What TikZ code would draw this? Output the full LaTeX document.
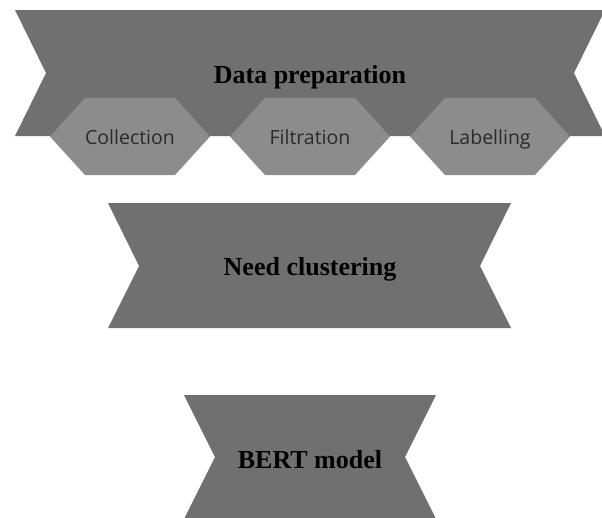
\documentclass[tikz,border=0pt]{standalone}
\usepackage{fontspec}
\setmainfont{Liberation Serif}
\newfontfamily\hexfont{Open Sans}
\definecolor{bandgray}{HTML}{707070}
\definecolor{hexgray}{HTML}{8C8C8C}
\definecolor{hextext}{HTML}{2A2A2A}
\begin{document}
\begin{tikzpicture}[x=1pt,y=-1pt,
  band/.style={fill=bandgray},
  hexa/.style={fill=hexgray},
  title/.style={font=\bfseries\fontsize{26}{30}\selectfont, text=black, text height=0.7em, text depth=0.22em, inner sep=0pt},
  hexlabel/.style={font=\hexfont\fontsize{19.5}{22}\selectfont, text=hextext, text height=0.72em, text depth=0.24em, inner sep=0pt}]
\useasboundingbox (0,0) rectangle (602,517);
% Data preparation band
\fill[band] (15,10) -- (605,10) -- (574,73) -- (605,136) -- (15,136) -- (46,73) -- cycle;
\node[title] (prep) at (310,81) {Data preparation};
% hexagons
\foreach \cx/\nm/\txt in {130/coll/Collection, 310/filt/Filtration, 490/lab/Labelling}{
  \fill[hexa] (\cx-80,136.5) -- (\cx-45,98) -- (\cx+45,98) -- (\cx+80,136.5) -- (\cx+45,175) -- (\cx-45,175) -- cycle;
  \node[hexlabel] (\nm) at (\cx,142) {\txt};
}
% Need clustering band
\fill[band] (108,203) -- (511,203) -- (480,266) -- (511,328) -- (108,328) -- (139,266) -- cycle;
\node[title] (clus) at (310,273) {Need clustering};
% BERT model band
\fill[band] (184,395) -- (436,395) -- (405,457) -- (436,519) -- (184,519) -- (215,457) -- cycle;
\node[title] (bert) at (310,466) {BERT model};
\end{tikzpicture}
\end{document}
